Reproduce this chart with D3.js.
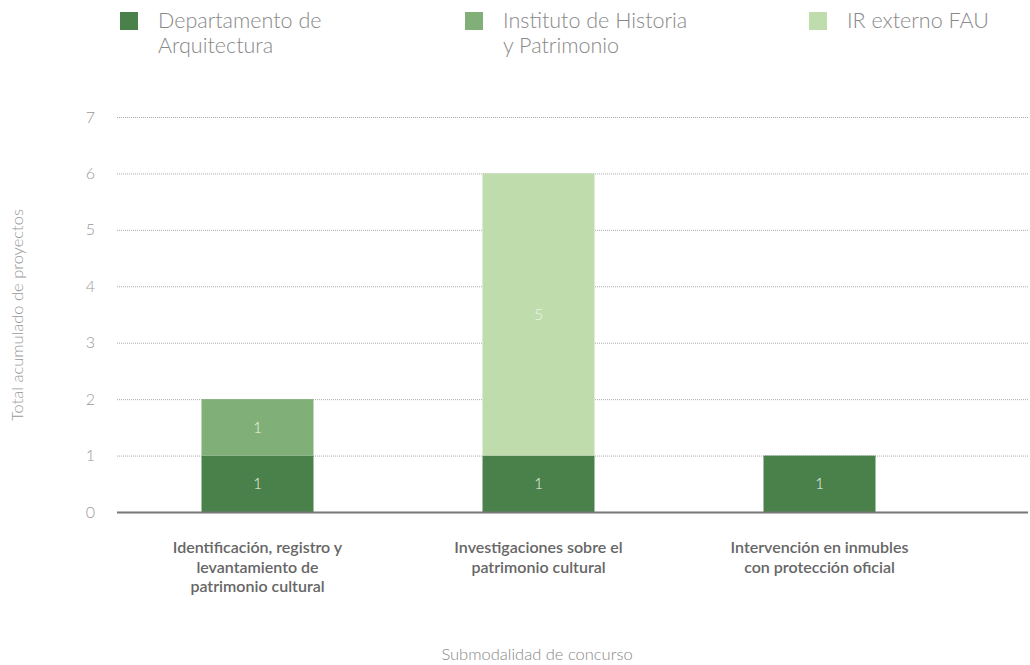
<!DOCTYPE html>
<html><head><meta charset="utf-8">
<script src="https://cdn.jsdelivr.net/npm/d3@7"></script>
<style>body{margin:0;background:#fff;font-family:Lato,"Open Sans",sans-serif;}</style>
</head><body><svg id="c" width="1030" height="665"></svg>
<script>
const categories = [
  ["Identificación, registro y","levantamiento de","patrimonio cultural"],
  ["Investigaciones sobre el","patrimonio cultural"],
  ["Intervención en inmubles","con protección oficial"]
];
const seriesNames = ["Departamento de Arquitectura","Instituto de Historia y Patrimonio","IR externo FAU"];
const legendLines = [["Departamento de","Arquitectura"],["Instituto de Historia","y Patrimonio"],["IR externo FAU"]];
const dptoArq = [1,1,1];
const instHist = [1,0,0];
const irExterno = [0,5,0];
const yTicks = [0,1,2,3,4,5,6,7];
const colors = ["#4a804a","#80b077","#bfdcad"];

const svg = d3.select("#c");
const x = d3.scaleBand().domain([0,1,2]).range([117,960]).padding(0.6).paddingOuter(0.3);
const y = d3.scaleLinear().domain([0,7]).range([512,117]);

// gridlines
svg.append("g").selectAll("line").data(yTicks.filter(d=>d>0)).join("line")
  .attr("x1",117).attr("x2",1028).attr("y1",d=>y(d)+0.5).attr("y2",d=>y(d)+0.5)
  .attr("stroke","#aaa").attr("stroke-width",1).attr("stroke-dasharray","1,1");
// y tick labels
svg.append("g").selectAll("text").data(yTicks).join("text")
  .attr("x",95).attr("y",d=>y(d)).attr("dy","0.35em").attr("text-anchor","end")
  .attr("font-size",16).attr("fill","#999").attr("font-weight",300).text(d=>d);

const data = categories.map((c,i)=>({i, vals:[dptoArq[i],instHist[i],irExterno[i]]}));
const stack = d3.stack().keys([0,1,2]).value((d,k)=>d.vals[k]);
const stacked = stack(data);

const bw = 112;
stacked.forEach((layer,k)=>{
  const g = svg.append("g");
  layer.forEach((seg,i)=>{
    if(seg[1]-seg[0] <= 0) return;
    const cx = x(i)+x.bandwidth()/2;
    g.append("rect").attr("x",cx-bw/2).attr("width",bw)
      .attr("y",y(seg[1])).attr("height",y(seg[0])-y(seg[1])).attr("fill",colors[k]);
    g.append("text").attr("x",cx).attr("y",(y(seg[0])+y(seg[1]))/2).attr("dy","0.35em")
      .attr("text-anchor","middle").attr("font-size",15).attr("fill","#eef4ea").attr("font-weight",300)
      .text(seg[1]-seg[0]);
  });
});

// baseline
svg.append("line").attr("x1",117).attr("x2",1028).attr("y1",y(0)+0.5).attr("y2",y(0)+0.5)
  .attr("stroke","#777").attr("stroke-width",2);

// category labels
categories.forEach((lines,i)=>{
  const cx = x(i)+x.bandwidth()/2;
  const t = svg.append("text").attr("text-anchor","middle").attr("font-size",16)
    .attr("fill","#666").attr("font-weight",600);
  lines.forEach((l,j)=>t.append("tspan").attr("x",cx).attr("y",553+j*19.5).text(l));
});

// axis titles
svg.append("text").attr("x",537).attr("y",660).attr("text-anchor","middle").attr("font-size",16.5)
  .attr("fill","#888").attr("font-weight",300).text("Submodalidad de concurso");
svg.append("text").attr("transform","translate(23,315) rotate(-90)").attr("text-anchor","middle")
  .attr("font-size",16.5).attr("fill","#999").attr("font-weight",300).text("Total acumulado de proyectos");

// legend
const lx = [120,465,809];
legendLines.forEach((lines,k)=>{
  svg.append("rect").attr("x",lx[k]).attr("y",12).attr("width",18).attr("height",18).attr("fill",colors[k]);
  const t = svg.append("text").attr("font-size",21.5).attr("fill","#888").attr("font-weight",300);
  lines.forEach((l,j)=>t.append("tspan").attr("x",lx[k]+38).attr("y",28+j*25).text(l));
});
</script></body></html>
